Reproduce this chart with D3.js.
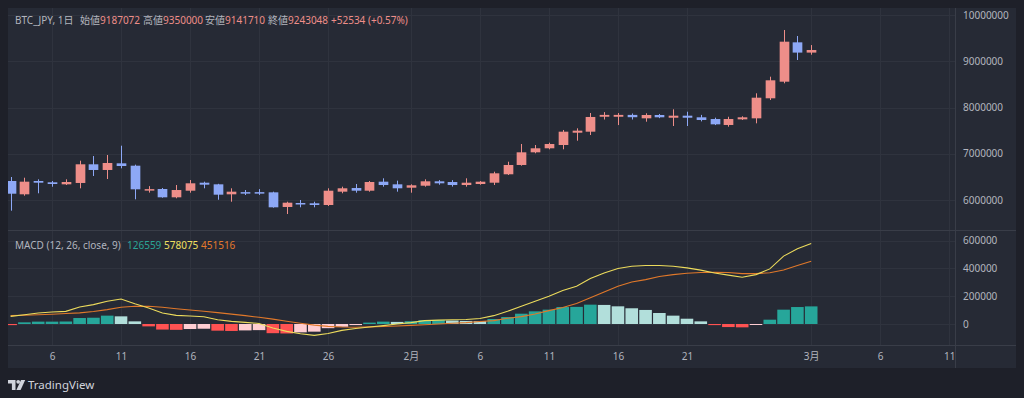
<!DOCTYPE html>
<html>
<head>
<meta charset="utf-8">
<script src="https://cdn.jsdelivr.net/npm/d3@7"></script>
<style>
  html, body { margin: 0; padding: 0; background: #1e2029; }
  svg { display: block; }
  text { font-family: "Noto Sans", "Noto Sans CJK JP", sans-serif; }
</style>
</head>
<body>
<div id="chart"></div>
<script>
// daily candles, BTC_JPY
const dates = [
  "2024-01-03","2024-01-04","2024-01-05","2024-01-06","2024-01-07","2024-01-08","2024-01-09","2024-01-10",
  "2024-01-11","2024-01-12","2024-01-13","2024-01-14","2024-01-15","2024-01-16","2024-01-17","2024-01-18",
  "2024-01-19","2024-01-20","2024-01-21","2024-01-22","2024-01-23","2024-01-24","2024-01-25","2024-01-26",
  "2024-01-27","2024-01-28","2024-01-29","2024-01-30","2024-01-31","2024-02-01","2024-02-02","2024-02-03",
  "2024-02-04","2024-02-05","2024-02-06","2024-02-07","2024-02-08","2024-02-09","2024-02-10","2024-02-11",
  "2024-02-12","2024-02-13","2024-02-14","2024-02-15","2024-02-16","2024-02-17","2024-02-18","2024-02-19",
  "2024-02-20","2024-02-21","2024-02-22","2024-02-23","2024-02-24","2024-02-25","2024-02-26","2024-02-27",
  "2024-02-28","2024-02-29","2024-03-01"
];
const opens = [
  6411000,6123000,6411000,6383000,6339000,6368000,6772000,6649000,6793000,6742000,6225000,6238000,6058000,6201000,6374000,6339000,
  6123000,6170000,6170000,6166000,5849000,5935000,5929000,5892000,6180000,6259000,6201000,6396000,6339000,6266000,6309000,6404000,
  6389000,6324000,6346000,6374000,6556000,6757000,7031000,7118000,7189000,7455000,7477000,7800000,7800000,7840000,7766000,7838000,
  7779000,7823000,7788000,7751000,7622000,7744000,7766000,8199000,8558000,9409000,9187072
];
const highs = [
  6497000,6482000,6447000,6411000,6447000,6850000,6951000,6973000,7174000,6764000,6300000,6260000,6324000,6432000,6396000,6350000,
  6253000,6216000,6235000,6180000,5963000,6000000,5963000,6253000,6288000,6346000,6411000,6469000,6418000,6339000,6447000,6430000,
  6430000,6469000,6410000,6612000,6828000,7211000,7189000,7239000,7514000,7550000,7881000,7900000,7880000,7870000,7875000,7860000,
  7961000,7909000,7840000,7780000,7800000,7810000,8307000,8666000,9676000,9546000,9350000
];
const lows = [
  5769000,6093000,6145000,6287000,6324000,6253000,6519000,6454000,6685000,6015000,6160000,6050000,6037000,6158000,6253000,6006000,
  5963000,6108000,6110000,5834000,5697000,5842000,5842000,5870000,6145000,6158000,6180000,6288000,6180000,6158000,6288000,6330000,
  6290000,6288000,6330000,6324000,6541000,6742000,7010000,7096000,7096000,7282000,7405000,7740000,7620000,7740000,7693000,7770000,
  7600000,7600000,7700000,7620000,7585000,7730000,7658000,8162000,8523000,9027000,9141710
];
const closes = [
  6136000,6396000,6374000,6346000,6389000,6772000,6649000,6800000,6735000,6231000,6235000,6058000,6216000,6361000,6331000,6115000,
  6180000,6160000,6162000,5842000,5942000,5920000,5892000,6201000,6253000,6201000,6389000,6324000,6253000,6318000,6404000,6361000,
  6324000,6374000,6396000,6577000,6757000,7031000,7118000,7211000,7477000,7499000,7795000,7840000,7840000,7790000,7838000,7788000,
  7823000,7779000,7730000,7636000,7751000,7788000,8212000,8588000,9423000,9187000,9243048
];

// MACD (12, 26, close, 9)
const macdLine = [
  55000,67000,79000,86000,91000,122000,139000,163000,180000,146000,115000,79000,62000,57000,52000,31000,
  19000,12000,4000,-29000,-53000,-70000,-82000,-68000,-46000,-32000,-22000,-12000,0,10000,24000,28000,
  30000,32000,40000,60000,91000,127000,163000,199000,240000,271000,327000,367000,399000,415000,420000,420000,
  415000,403000,387000,367000,351000,336000,355000,396000,488000,540000,578075
];
const signalLine = [
  60000,63000,67000,70000,75000,80000,90000,103000,120000,127000,128000,120000,110000,101000,92000,82000,
  71000,60000,48000,35000,20000,5000,-8000,-17000,-22000,-23000,-21000,-18000,-14000,-10000,-5000,0,
  5000,10000,18000,24000,41000,53000,72000,96000,118000,148000,188000,230000,272000,302000,319000,341000,
  355000,365000,370000,372000,370000,362000,362000,368000,388000,420000,451516
];
const histogram = [
  -8000,12000,17000,17000,18000,43000,45000,60000,55000,19000,-17000,-40000,-42000,-36000,-34000,-48000,
  -50000,-46000,-44000,-66000,-68000,-60000,-55000,-30000,-20000,-8000,10000,17000,15000,20000,28000,29000,
  25000,22000,21000,36000,50000,74000,91000,103000,122000,123000,139000,137000,127000,113000,101000,79000,
  60000,38000,19000,-8000,-22000,-24000,-5000,31000,103000,122000,126559
];

const priceTicks = [6000000, 7000000, 8000000, 9000000, 10000000];
const macdTicks = [0, 200000, 400000, 600000];
const timeTicks = ["2024-01-06","2024-01-11","2024-01-16","2024-01-21","2024-01-26","2024-02-01",
                   "2024-02-06","2024-02-11","2024-02-16","2024-02-21","2024-03-01","2024-03-06","2024-03-11"];
const timeTickLabels = ["6","11","16","21","26","2月","6","11","16","21","3月","6","11"];

const W = 1024, H = 398;
const padL = 8, axisX = 955, padR = 1016, padT = 8, paneSplit = 230, timeTop = 345, padB = 368;

const bars = dates.map((d, i) => ({
  date: new Date(d), o: opens[i], h: highs[i], l: lows[i], c: closes[i],
  macd: macdLine[i], sig: signalLine[i], hist: histogram[i]
}));

const x = d3.scaleUtc()
  .domain([new Date("2024-01-03"), new Date("2024-03-01")])
  .range([10.6, 811.2]);
const dayW = x(new Date("2024-01-04")) - x(new Date("2024-01-03"));

const yP = d3.scaleLinear().domain([6000000, 10000000]).range([200, 15]);
const yM = d3.scaleLinear().domain([0, 600000]).range([324, 240.5]);

const svg = d3.select("#chart").append("svg")
  .attr("width", W).attr("height", H);

svg.append("rect").attr("width", W).attr("height", H).attr("fill", "#1e2029");
svg.append("rect")
  .attr("x", padL).attr("y", padT)
  .attr("width", padR - padL).attr("height", padB - padT)
  .attr("fill", "#262a35");

const defs = svg.append("defs");
defs.append("clipPath").attr("id", "clipP").append("rect")
  .attr("x", padL).attr("y", padT).attr("width", axisX - padL).attr("height", paneSplit - padT);
defs.append("clipPath").attr("id", "clipM").append("rect")
  .attr("x", padL).attr("y", paneSplit).attr("width", axisX - padL).attr("height", timeTop - paneSplit);

const gridColor = "#2f333e";
const lineColor = "#393d48";

// grid
const grid = svg.append("g");
grid.selectAll(".vg").data(timeTicks).enter().append("line")
  .attr("x1", d => Math.round(x(new Date(d))) + 0.5)
  .attr("x2", d => Math.round(x(new Date(d))) + 0.5)
  .attr("y1", padT).attr("y2", timeTop)
  .attr("stroke", gridColor);
grid.selectAll(".hp").data(priceTicks).enter().append("line")
  .attr("x1", padL).attr("x2", axisX)
  .attr("y1", d => Math.round(yP(d)) + 0.5).attr("y2", d => Math.round(yP(d)) + 0.5)
  .attr("stroke", gridColor);
grid.selectAll(".hm").data(macdTicks).enter().append("line")
  .attr("x1", padL).attr("x2", axisX)
  .attr("y1", d => Math.round(yM(d)) + 0.5).attr("y2", d => Math.round(yM(d)) + 0.5)
  .attr("stroke", gridColor);

// separators
svg.append("line").attr("x1", padL).attr("x2", padR).attr("y1", paneSplit + 0.5).attr("y2", paneSplit + 0.5).attr("stroke", lineColor);
svg.append("line").attr("x1", padL).attr("x2", padR).attr("y1", timeTop + 0.5).attr("y2", timeTop + 0.5).attr("stroke", lineColor);
svg.append("line").attr("x1", axisX + 0.5).attr("x2", axisX + 0.5).attr("y1", padT).attr("y2", padB).attr("stroke", lineColor);

// candles
const upColor = "#ee8e89", downColor = "#8da8f6";
const candles = svg.append("g").attr("clip-path", "url(#clipP)");
const cg = candles.selectAll("g").data(bars).enter().append("g");
cg.append("line")
  .attr("x1", d => Math.round(x(d.date)) + 0.5)
  .attr("x2", d => Math.round(x(d.date)) + 0.5)
  .attr("y1", d => yP(d.h)).attr("y2", d => yP(d.l))
  .attr("stroke", d => d.c >= d.o ? upColor : downColor);
cg.append("rect")
  .attr("x", d => Math.round(x(d.date)) + 0.5 - dayW * 0.35)
  .attr("width", dayW * 0.7)
  .attr("y", d => yP(Math.max(d.o, d.c)))
  .attr("height", d => Math.max(1.5, yP(Math.min(d.o, d.c)) - yP(Math.max(d.o, d.c))))
  .attr("fill", d => d.c >= d.o ? upColor : downColor);

// MACD pane
const macdG = svg.append("g").attr("clip-path", "url(#clipM)");
macdG.selectAll("rect").data(bars).enter().append("rect")
  .attr("x", d => x(d.date) - dayW / 2 + 0.6)
  .attr("width", dayW - 1.2)
  .attr("y", d => Math.min(yM(d.hist), yM(0)))
  .attr("height", d => Math.max(1, Math.abs(yM(d.hist) - yM(0))))
  .attr("fill", (d, i) => {
    const prev = i > 0 ? bars[i - 1].hist : d.hist;
    if (d.hist >= 0) return d.hist >= prev ? "#26a69a" : "#b2dfdb";
    return d.hist < prev || i === 0 ? "#ff5252" : "#ffcdd2";
  });

macdG.append("path").datum(bars)
  .attr("fill", "none").attr("stroke", "#e0782a").attr("stroke-width", 1.1)
  .attr("d", d3.line().x(d => x(d.date)).y(d => yM(d.sig)));
macdG.append("path").datum(bars)
  .attr("fill", "none").attr("stroke", "#ecdb5c").attr("stroke-width", 1.1)
  .attr("d", d3.line().x(d => x(d.date)).y(d => yM(d.macd)));

// axes
const axisText = "#b2b5be";
const pAxis = svg.append("g").attr("transform", `translate(${axisX + 8},0)`)
  .call(d3.axisRight(yP).tickValues(priceTicks).tickFormat(d3.format("d")).tickSize(0).tickPadding(0));
const mAxis = svg.append("g").attr("transform", `translate(${axisX + 8},0)`)
  .call(d3.axisRight(yM).tickValues(macdTicks).tickFormat(d3.format("d")).tickSize(0).tickPadding(0));
const tAxis = svg.append("g").attr("transform", `translate(0,${timeTop})`)
  .call(d3.axisBottom(x).tickValues(timeTicks.map(d => new Date(d)))
    .tickFormat((d, i) => timeTickLabels[i]).tickSize(0).tickPadding(8));
[pAxis, mAxis, tAxis].forEach(g => {
  g.select(".domain").remove();
  g.selectAll("text").attr("fill", axisText).attr("font-size", 10)
    .attr("font-family", "\"Noto Sans\", \"Noto Sans CJK JP\", sans-serif");
});

// header legend
const last = bars[bars.length - 1];
const valColor = "#ee8e89";
const hdr = svg.append("text").attr("y", 23.5).attr("font-size", 10);
const parts = [
  ["BTC_JPY, 1日", axisText, 15],
  ["始値", axisText, 80], [String(last.o), valColor, null],
  ["高値", axisText, 143], [String(last.h), valColor, null],
  ["安値", axisText, 205], [String(last.l), valColor, null],
  ["終値", axisText, 268], [String(last.c), valColor, null],
  ["+52534 (+0.57%)", valColor, 331]
];
parts.forEach(p => {
  const t = hdr.append("tspan").text(p[0]).attr("fill", p[1]);
  if (p[2] !== null) t.attr("x", p[2]);
});

const mHdr = svg.append("text").attr("y", 248.5).attr("font-size", 10);
mHdr.append("tspan").attr("x", 15).attr("fill", axisText).text("MACD (12, 26, close, 9)");
mHdr.append("tspan").attr("x", 127).attr("fill", "#2aa596").text(String(last.hist));
mHdr.append("tspan").attr("x", 164).attr("fill", "#f0e060").text(String(last.macd));
mHdr.append("tspan").attr("x", 201).attr("fill", "#e4792c").text(String(last.sig));

// TradingView mark
const logo = svg.append("g").attr("fill", "#d1d4dc");
logo.append("path").attr("d", "M8,380 h7.5 v10 h-3.6 v-6.4 h-3.9 z");
logo.append("circle").attr("cx", 18.2).attr("cy", 381.8).attr("r", 1.9);
logo.append("path").attr("d", "M21,380 h4.2 l-4.6,10 h-4.2 z");
svg.append("text").attr("x", 28).attr("y", 389).attr("font-size", 11.5)
  .attr("fill", "#d1d4dc").text("TradingView");
</script>
</body>
</html>
